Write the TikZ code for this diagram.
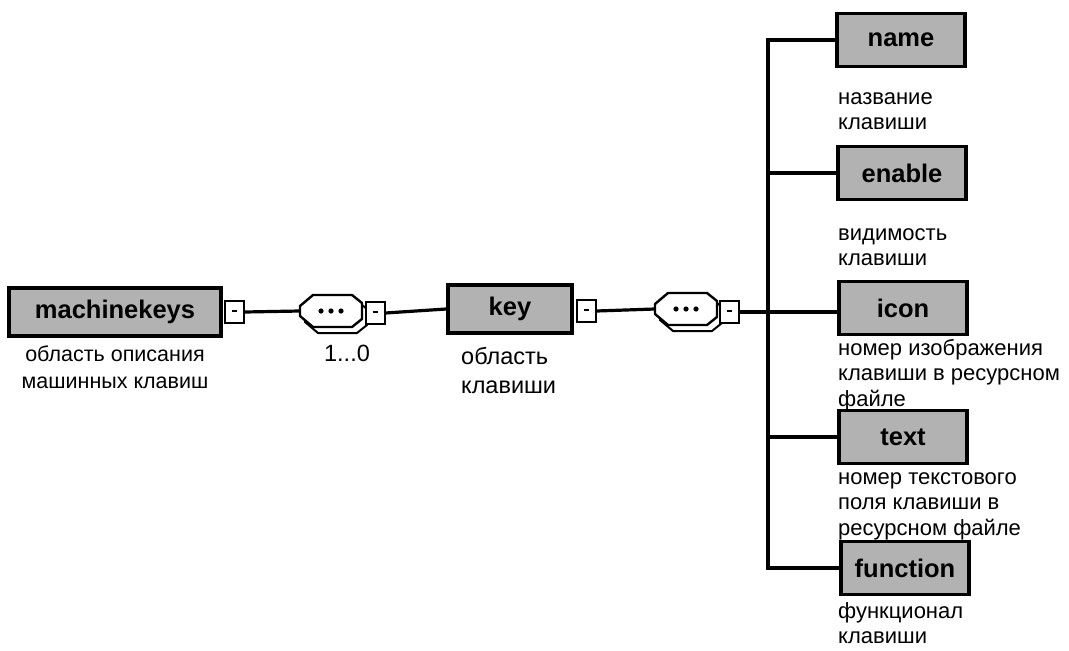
\documentclass[tikz,border=0pt]{standalone}
\usepackage{fontspec}
\setmainfont{Liberation Sans}
\usetikzlibrary{positioning}
\tikzset{
  elem/.style={draw,line width=3.6pt,fill=black!30,inner sep=0pt,
    font=\fontsize{25.5}{28}\selectfont\bfseries},
  leaf/.style={elem,minimum width=128pt,minimum height=53pt},
  plusbox/.style={draw,line width=2pt,fill=white,minimum width=19pt,
    minimum height=22pt,inner sep=0pt},
  seqbox/.style={minimum width=62pt,minimum height=32pt,inner sep=0pt},
  octo/.style={line width=2.4pt,fill=white,line join=round},
  desc/.style={font=\fontsize{22}{25.5}\selectfont,align=left,inner sep=0pt,
    anchor=north west,execute at begin node=\strut},
  conn/.style={line width=3.2pt}
}
\newcommand{\minusmark}{\rule[2pt]{5pt}{2pt}}
\begin{document}
\begin{tikzpicture}[x=1pt,y=-1pt]
 \useasboundingbox (0,0) rectangle (1069,651);
 % main row
 \node[elem,minimum width=212pt,minimum height=48pt] (machinekeys) at (115,312) {machinekeys};
 \node[seqbox] (seq1) at (331,311) {};
 \node[seqbox] (seq2) at (686,309) {};
 % octagons with their shadow
 \foreach \s in {seq1,seq2} {
   \draw[octo,line width=2pt] ([shift={(5,6)}]\s.center) +(-31,-5) -- +(-18,-16) -- +(21,-16) -- +(31,-8)
     -- +(31,8) -- +(21,16) -- +(-18,16) -- +(-31,5) -- cycle;
   \draw[octo] (\s.center) +(-31,-5) -- +(-18,-16) -- +(21,-16) -- +(31,-8)
     -- +(31,8) -- +(21,16) -- +(-18,16) -- +(-31,5) -- cycle;
   \foreach \d in {-10,0,10}
     \fill ([xshift=\d pt]\s.center) circle (2.6pt);
 }
 \node[plusbox] (mkplus) at (234,312) {\minusmark};
 \node[plusbox] (seq1plus) at (375,313) {\minusmark};
 \node[font=\fontsize{23.5}{23.5}\selectfont] (card) at (347,353) {1...0};
 \node[elem,minimum width=124pt,minimum height=48pt] (key) at (510,309) {key};
 \node[plusbox] (keyplus) at (586,311) {\minusmark};
 \node[plusbox] (seq2plus) at (729,312) {\minusmark};
 \node[desc,anchor=north,align=center,font=\fontsize{21.5}{27}\selectfont] (mkdesc) at (115,346) {область описания\\машинных клавиш};
 \node[desc,font=\fontsize{23.5}{29}\selectfont] (keydesc) at (461,347) {область\\клавиши};
 % children
 \coordinate (bus) at (768,0);
 \node[leaf] (name) at (901,40) {name};
 \node[leaf] (enable) at (902,173) {enable};
 \node[leaf] (icon) at (903,308) {icon};
 \node[leaf] (text) at (903,437) {text};
 \node[leaf] (function) at (905,568) {function};
 \node[desc] (namedesc) at (838,92) {название\\клавиши};
 \node[desc] (enabledesc) at (838,228) {видимость\\клавиши};
 \node[desc] (icondesc) at (838,339) {номер изображения\\клавиши в ресурсном\\файле};
 \node[desc] (textdesc) at (838,472) {номер текстового\\поля клавиши в\\ресурсном файле};
 \node[desc] (functiondesc) at (838,602) {функционал\\клавиши};
 % connectors
 \draw[conn] (mkplus.east) -- (seq1.west);
 \draw[conn] (seq1plus.east) -- (key.west);
 \draw[conn] (keyplus.east) -- (seq2.west);
 \draw[conn] (seq2plus.east) -- (seq2plus.east -| icon.west);
 \draw[conn] (name.west) -- (name.west -| bus) |- (function.west);
 \draw[conn] (enable.west) -- (enable.west -| bus);
 \draw[conn] (text.west) -- (text.west -| bus);
\end{tikzpicture}
\end{document}
